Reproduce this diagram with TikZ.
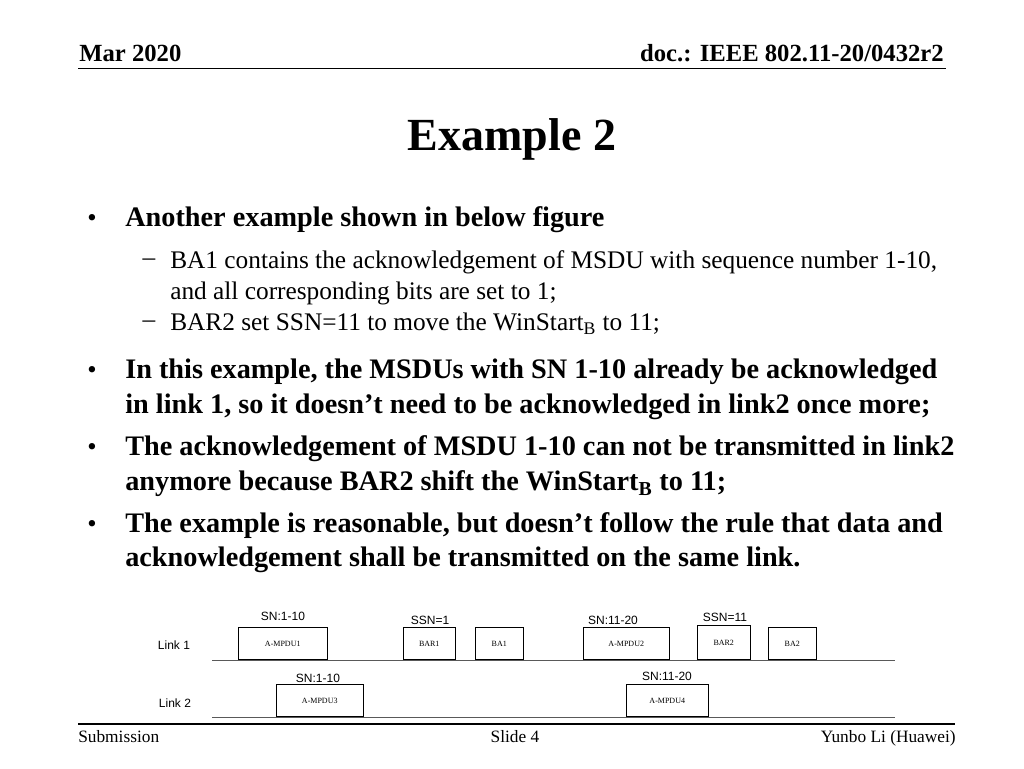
\documentclass[tikz,border=0pt]{standalone}
\usepackage{fontspec}
\setmainfont{Liberation Serif}
\newfontfamily\arial{Liberation Sans}
\begin{document}
\begin{tikzpicture}[x=0.75pt,y=-0.75pt,
 box/.style={draw,minimum height=24.5pt,inner sep=0pt,font=\fontsize{6}{7}\selectfont},
 lab/.style={font=\arial\fontsize{9}{10}\selectfont,inner sep=0pt},
 big/.style={anchor=west,inner sep=0pt,font=\bfseries\fontsize{21.2}{23}\selectfont},
 sub/.style={anchor=west,inner sep=0pt,font=\fontsize{19}{21}\selectfont},
 hd/.style={inner sep=0pt,font=\bfseries\fontsize{18.5}{20}\selectfont},
 ft/.style={inner sep=0pt,font=\fontsize{13}{15}\selectfont}]
\useasboundingbox (0,0) rectangle (1024,768);
\node[hd,anchor=base west] (h1) at (79,61) {Mar 2020};
\node[hd,anchor=base east] (h2) at (944,61) {doc.: IEEE 802.11-20/0432r2};
\draw (78,68) -- (946,68);
\node[inner sep=0pt,font=\bfseries\fontsize{34.5}{38}\selectfont] (t) at (512,139) {Example 2};
\foreach \y in {220,372,449,526} \node[inner sep=0pt,font=\fontsize{20}{22}\selectfont] at (92,\y) {•};
\foreach \y in {262,324} \node[inner sep=0pt,font=\fontsize{19}{21}\selectfont] at (149,\y) {–};
\node[big] at (125,220) {Another example shown in below figure};
\node[sub] at (170,262) {BA1 contains the acknowledgement of MSDU with sequence number 1-10,};
\node[sub] at (170,293) {and all corresponding bits are set to 1;};
\node[sub] at (170,324) {BAR2 set SSN=11 to move the WinStart\textsubscript{B} to 11;};
\node[big] at (125,372) {In this example, the MSDUs with SN 1-10 already be acknowledged};
\node[big] at (125,407) {in link 1, so it doesn’t need to be acknowledged in link2 once more;};
\node[big] at (125,449) {The acknowledgement of MSDU 1-10 can not be transmitted in link2};
\node[big] at (125,484) {anymore because BAR2 shift the WinStart\textsubscript{B} to 11;};
\node[big] at (125,526) {The example is reasonable, but doesn’t follow the rule that data and};
\node[big] at (125,560) {acknowledgement shall be transmitted on the same link.};
% figure
\draw[gray!70!black] (212,660) -- (895,660);
\draw[gray!70!black] (212,717) -- (895,717);
\node[box,minimum width=66.75pt,anchor=south west] (m1) at (238,660) {A-MPDU1};
\node[box,minimum width=39pt,anchor=south west] (bar1) at (403,660) {BAR1};
\node[box,minimum width=36pt,anchor=south west] (ba1) at (475,660) {BA1};
\node[box,minimum width=64.5pt,anchor=south west] (m2) at (583,660) {A-MPDU2};
\node[box,minimum width=39.75pt,minimum height=25.5pt,anchor=south west] (bar2) at (697,660) {BAR2};
\node[box,minimum width=36pt,anchor=south west] (ba2) at (768,660) {BA2};
\node[box,minimum width=65.25pt,anchor=south west] (m3) at (276,717) {A-MPDU3};
\node[box,minimum width=61.5pt,anchor=south west] (m4) at (626,717) {A-MPDU4};
\node[lab] (l1) at (174,645) {Link 1};
\node[lab] (l2) at (175,703) {Link 2};
\node[lab] at (283,616) {SN:1-10};
\node[lab] at (430,620) {SSN=1};
\node[lab] at (613,620) {SN:11-20};
\node[lab] at (725,617) {SSN=11};
\node[lab] at (318,678) {SN:1-10};
\node[lab] at (667,676) {SN:11-20};
% footer
\draw[line width=1pt] (78,724) -- (955,724);
\node[ft,anchor=base west] (f1) at (78,742) {Submission};
\node[ft,anchor=base] (f2) at (515,742) {Slide 4};
\node[ft,anchor=base east] (f3) at (956,742) {Yunbo Li (Huawei)};
\end{tikzpicture}
\end{document}
